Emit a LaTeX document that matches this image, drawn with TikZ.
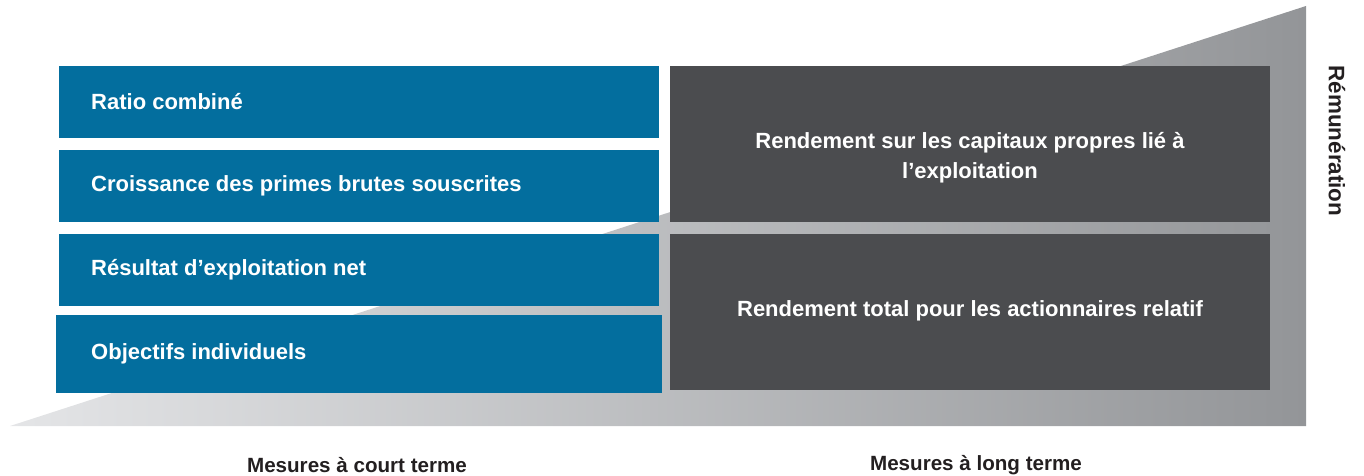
\documentclass[tikz,border=0pt]{standalone}
\usepackage{fontspec}
\setmainfont{Liberation Sans}
\definecolor{boxblue}{HTML}{036E9E}
\definecolor{boxdark}{HTML}{4B4C4F}
\definecolor{gradleft}{HTML}{E4E5E7}
\definecolor{gradright}{HTML}{939598}
\definecolor{txtdark}{HTML}{231F20}
\tikzset{
  bluebox/.style={fill=boxblue, draw=none, inner sep=0pt, minimum width=600pt, minimum height=72pt},
  darkbox/.style={fill=boxdark, draw=none, inner sep=0pt, minimum width=600pt, minimum height=156pt},
  boxtext/.style={text=white, inner sep=0pt, font=\bfseries\fontsize{22}{30}\selectfont},
  axistext/.style={text=txtdark, inner sep=0pt, font=\bfseries\fontsize{20.6}{24}\selectfont}
}
\begin{document}
\begin{tikzpicture}[x=1pt,y=-1pt]
\useasboundingbox (0,0) rectangle (1364,476);
\shade[left color=gradleft, right color=gradright] (10,426) -- (1306,6) -- (1306,426) -- cycle;
% blue boxes
\node[bluebox] (b1) at (359,102) {};
\node[bluebox] (b2) at (359,186) {};
\node[bluebox] (b3) at (359,270) {};
\node[bluebox, minimum width=606pt, minimum height=78pt] (b4) at (359,354) {};
\node[boxtext, anchor=west] (t1) at (91,102) {Ratio combiné};
\node[boxtext, anchor=west] (t2) at (91,186) {Croissance des primes brutes souscrites};
\node[boxtext, anchor=west] (t3) at (91,270) {Résultat d’exploitation net};
\node[boxtext, anchor=west] (t4) at (91,354) {Objectifs individuels};
% dark boxes
\node[darkbox] (d1) at (970,144) {};
\node[darkbox] (d2) at (970,312) {};
\node[boxtext, align=center] (u1) at (970,158) {Rendement sur les capitaux propres lié à\\l’exploitation};
\node[boxtext] (u2) at (970,311) {Rendement total pour les actionnaires relatif};
% axis labels
\node[axistext] (short) at (357,465) {Mesures à court terme};
\node[axistext] (long) at (976,465) {Mesures à long terme};
\node[axistext, font=\bfseries\fontsize{22.4}{26}\selectfont, rotate=-90] (rem) at (1337,141) {Rémunération};
\end{tikzpicture}
\end{document}
